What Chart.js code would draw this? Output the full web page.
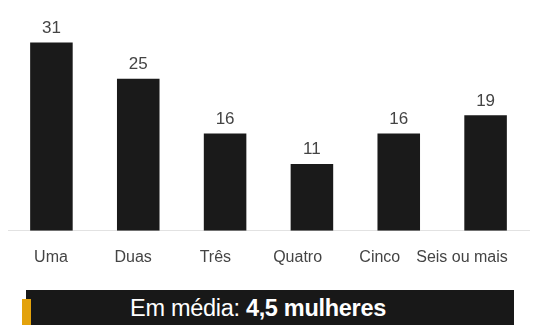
<!DOCTYPE html>
<html>
<head>
<meta charset="utf-8">
<script src="https://cdn.jsdelivr.net/npm/chart.js@4/dist/chart.umd.min.js"></script>
<style>
  html, body { margin: 0; padding: 0; background: #fff; }
  body { width: 545px; height: 325px; position: relative; overflow: hidden; font-family: 'Liberation Sans', Arial, sans-serif; }
  #chart { position: absolute; left: 0; top: 0; }
  .banner { position: absolute; left: 26px; top: 290px; width: 488px; height: 35px; background: #181818; color: #fff;
            font-size: 23.5px; line-height: 37px; box-sizing: border-box; padding-right: 24px; text-align: center; letter-spacing: -0.3px; }
  .banner b { font-weight: bold; }
  .accent { position: absolute; left: 22px; top: 299px; width: 9px; height: 26px; background: #e3a20c; }
</style>
</head>
<body>
<canvas id="chart" width="545" height="290"></canvas>
<div class="banner">Em média:&nbsp;<b>4,5 mulheres</b></div>
<div class="accent"></div>
<script>
'use strict';
const CATEGORIES = ['Uma', 'Duas', 'Três', 'Quatro', 'Cinco', 'Seis ou mais'];
const VALUES = [31, 25, 16, 11, 16, 19];
const NAME_MIN = -0.523, NAME_MAX = 5.815;

// rótulos numéricos acima das barras
const valueLabels = {
    id: 'valueLabels',
    afterDatasetsDraw(chart) {
        const ctx = chart.ctx;
        const meta = chart.getDatasetMeta(0);
        ctx.save();
        ctx.font = "17px 'Liberation Sans', Arial, sans-serif";
        ctx.fillStyle = '#444';
        ctx.textAlign = 'center';
        ctx.textBaseline = 'bottom';
        meta.data.forEach((bar, i) => {
            ctx.fillText(String(VALUES[i]), bar.x, bar.y - 6);
        });
        ctx.restore();
    },
};

new Chart(document.getElementById('chart'), {
    type: 'bar',
    data: {
        labels: CATEGORIES,
        datasets: [{
            data: VALUES,
            backgroundColor: '#1a1a1a',
            borderWidth: 0,
            categoryPercentage: 1,
            barPercentage: 0.49,
        }],
    },
    options: {
        responsive: false,
        animation: false,
        layout: { padding: { left: 8, right: 16, top: 12, bottom: 6 } },
        plugins: { legend: { display: false }, tooltip: { enabled: false } },
        scales: {
            x: { display: false },
            y: { display: false, min: 0, max: 36 },
            // eixo só para os nomes (espaçamento um pouco menor que o das barras)
            names: {
                type: 'linear',
                position: 'bottom',
                offset: false,
                min: NAME_MIN,
                max: NAME_MAX,
                grid: { display: false, drawTicks: false, offset: false },
                border: { display: true, color: '#e2e2e2', width: 1 },
                afterBuildTicks(scale) {
                    scale.ticks = CATEGORIES.map((_, i) => ({ value: i }));
                    scale.min = NAME_MIN;
                    scale.max = NAME_MAX;
                },
                ticks: {
                    padding: 17,
                    color: '#444',
                    font: { family: "'Liberation Sans', Arial, sans-serif", size: 16 },
                    autoSkip: false,
                    maxRotation: 0,
                    callback: (v) => CATEGORIES[v],
                },
            },
        },
    },
    plugins: [valueLabels],
});
</script>
</body>
</html>
